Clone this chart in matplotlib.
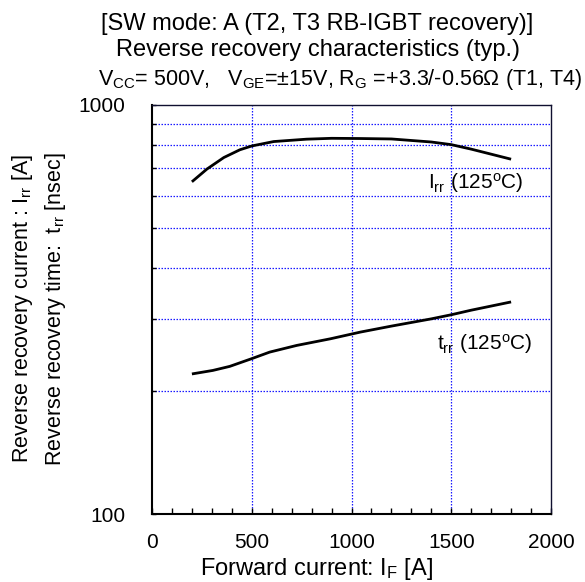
import numpy as np
import matplotlib
matplotlib.use('Agg')
import matplotlib.pyplot as plt
from matplotlib.ticker import FixedLocator, NullFormatter, FixedFormatter

plt.rcParams['font.family'] = ['Liberation Sans', 'DejaVu Sans']
plt.rcParams['mathtext.fontset'] = 'custom'
plt.rcParams['mathtext.rm'] = 'Liberation Sans'
plt.rcParams['mathtext.it'] = 'Liberation Sans:italic'

# reverse recovery current Irr (125C) [A]
irr_x = [200, 275, 360, 440, 500, 610, 775, 900, 1045, 1200, 1400, 1500, 1600, 1800]
irr_y = [649, 697, 744, 777, 794, 814, 825, 829, 828, 826, 812, 800, 780, 737]

# reverse recovery time trr (125C) [nsec]
trr_x = [200, 305, 390, 500, 590, 725, 895, 1045, 1200, 1400, 1500, 1600, 1800]
trr_y = [220, 224.4, 229.6, 239.8, 248.8, 258.3, 268.2, 278.5, 288, 300, 307, 315, 330]

xticks = [0, 500, 1000, 1500, 2000]
yticks = [100, 1000]
ygrid = [200, 300, 400, 500, 600, 700, 800, 900]

fig = plt.figure(figsize=(5.85, 5.82), dpi=100)
ax = fig.add_axes([152/585, 1-514/582, 399/585, 409/582])

ax.set_yscale('log')
ax.set_xlim(0, 2000)
ax.set_ylim(100, 1000)

ax.plot(irr_x, irr_y, color='black', lw=2.0, solid_capstyle='butt', solid_joinstyle='round')
ax.plot(trr_x, trr_y, color='black', lw=2.0, solid_capstyle='butt', solid_joinstyle='round')

# grid
for gx in [500, 1000, 1500]:
    ax.axvline(gx, color='#1a1aff', lw=0.9, ls=(0, (1.2, 1.2)), zorder=0)
for gy in ygrid:
    ax.axhline(gy, color='#1a1aff', lw=0.9, ls=(0, (1.2, 1.2)), zorder=0)

ax.xaxis.set_major_locator(FixedLocator(xticks))
ax.xaxis.set_minor_locator(FixedLocator(np.arange(0, 2001, 100)))
ax.yaxis.set_major_locator(FixedLocator(yticks))
ax.yaxis.set_major_formatter(FixedFormatter(['100', '1000']))
ax.yaxis.set_minor_locator(FixedLocator(ygrid))
ax.yaxis.set_minor_formatter(NullFormatter())
ax.tick_params(which='both', direction='in', labelsize=15, top=False, right=False)
ax.tick_params(axis='x', which='both', length=4, width=1, pad=14)
ax.tick_params(axis='y', which='both', length=3, width=1, pad=19)

for s in ['left', 'bottom']:
    ax.spines[s].set_linewidth(1.5)
for s in ['top', 'right']:
    ax.spines[s].set_linewidth(1.0)
    ax.spines[s].set_color('#101030')

ax.text(1385, 645, r'I$_{\rm rr}$ (125$^{\rm o}$C)', fontsize=15, va='center', ha='left')
ax.text(1430, 261, r't$_{\rm rr}$ (125$^{\rm o}$C)', fontsize=15, va='center', ha='left')

# x label sits left of the axes centre in the original
fig.text(317/585, 1-569/582, r'Forward current: I$_{\rm F}$ [A]', fontsize=17,
         ha='center', va='center')

fig.text(23/585, 1-309/582, r'Reverse recovery current : I$_{\rm rr}$ [A]',
         rotation=90, fontsize=15.5, ha='center', va='center')
fig.text(55/585, 1-309/582, r'Reverse recovery time:  t$_{\rm rr}$ [nsec]',
         rotation=90, fontsize=15.5, ha='center', va='center')

fig.text(317/585, 1-24/582, '[SW mode: A (T2, T3 RB-IGBT recovery)]', fontsize=17,
         ha='center', va='center')
fig.text(318/585, 1-50/582, 'Reverse recovery characteristics (typ.)', fontsize=17,
         ha='center', va='center')
fig.text(340/585, 1-80/582,
         r'V$_{\rm CC}$= 500V,   V$_{\rm GE}$=$\pm$15V, R$_{\rm G}$ =+3.3/-0.56$\Omega$ (T1, T4)',
         fontsize=15.5, ha='center', va='center')

fig.savefig('out.png', dpi=100)
